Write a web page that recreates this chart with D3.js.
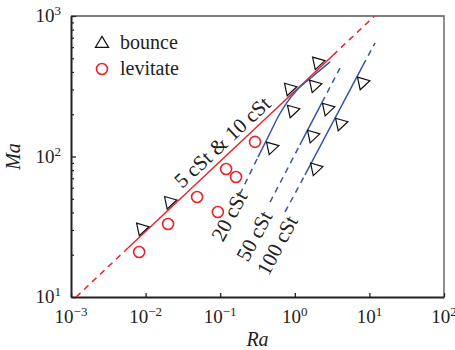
<!DOCTYPE html>
<html>
<head>
<meta charset="utf-8">
<script src="https://cdn.jsdelivr.net/npm/d3@7"></script>
<style>
  body { margin: 0; background: #fff; }
  svg { display: block; }
  text { font-family: "Liberation Serif", "Times New Roman", serif; fill: #222; }
</style>
</head>
<body>
<div id="chart"></div>
<script>
// bounce (triangles) and levitate (circles)
const bounceRa = [0.0087, 0.0206, 0.48, 0.836, 0.917, 1.81, 1.99, 2.70, 1.70, 4.04, 7.96, 1.87];
const bounceMa = [31, 48, 117, 307, 214, 323, 471, 221, 142, 173, 339, 83];
const levitateRa = [0.0082, 0.020, 0.049, 0.093, 0.120, 0.163, 0.293];
const levitateMa = [20.9, 33.1, 51.5, 40.3, 81.5, 71.5, 127];

// guide lines, [Ra, Ma] pairs
const red5Dashed1 = [[0.00117, 10], [0.0058, 22.3]];
const red5Solid = [[0.0058, 22.3], [3.25, 526]];
const red5Dashed2 = [[3.25, 526], [11.7, 1000]];
const blue20Dashed = [[0.184, 54], [0.321, 99]];
const blue20Solid = [[0.321, 99], [0.466, 147], [0.596, 191], [0.762, 237], [1.07, 297], [1.70, 368], [2.97, 471]];
const blue50Dashed1 = [[0.466, 47.4], [1.17, 121]];
const blue50Solid = [[1.17, 121], [2.32, 243]];
const blue50Dashed2 = [[2.32, 243], [4.03, 426]];
const blue100Dashed1 = [[0.74, 40.3], [1.37, 74]];
const blue100Solid = [[1.37, 74], [8.2, 445]];
const blue100Dashed2 = [[8.2, 445], [11.9, 643]];

const xTickExp = [-3, -2, -1, 0, 1, 2];
const yTickExp = [1, 2, 3];
const legendNames = ["bounce", "levitate"];

// labels: text, anchor [Ra, Ma], rotation
const lineLabels = [
  {text: "5 cSt & 10 cSt", at: [0.106, 127], angle: -43},
  {text: "20 cSt", at: [0.131, 37.8], angle: -62},
  {text: "50 cSt", at: [0.284, 27.2], angle: -62},
  {text: "100 cSt", at: [0.577, 23.4], angle: -62}
];

const W = 455, H = 350;
const margin = {top: 16, right: 11, bottom: 53, left: 71};
const w = W - margin.left - margin.right;
const h = H - margin.top - margin.bottom;

const red = "#e8242b", blue = "#3755a8";

const svg = d3.select("#chart").append("svg")
  .attr("width", W).attr("height", H);

const g = svg.append("g")
  .attr("transform", "translate(" + margin.left + "," + margin.top + ")");

const x = d3.scaleLog().domain([1e-3, 1e2]).range([0, w]);
const y = d3.scaleLog().domain([10, 1000]).range([h, 0]);

g.append("clipPath").attr("id", "clip")
  .append("rect").attr("width", w).attr("height", h);

// frame top/right
g.append("path")
  .attr("d", "M0,0H" + w + "V" + h)
  .attr("fill", "none").attr("stroke", "#555").attr("stroke-width", 1.3);

// x axis, major ticks pointing in
const xAxis = g.append("g")
  .attr("transform", "translate(0," + h + ")")
  .call(d3.axisBottom(x).tickValues(xTickExp.map(e => Math.pow(10, e)))
    .tickSizeInner(-4).tickSizeOuter(0).tickFormat(""));
xAxis.select(".domain").attr("stroke", "#222").attr("stroke-width", 2);
xAxis.selectAll(".tick line").attr("stroke", "#222").attr("stroke-width", 1.3);

// y axis, major + minor ticks
const yMinor = [];
[10, 100].forEach(b => { for (let k = 2; k <= 9; k++) yMinor.push(b * k); });
g.append("g")
  .call(d3.axisLeft(y).tickValues(yMinor).tickSizeInner(-3).tickSizeOuter(0).tickFormat(""))
  .call(a => a.select(".domain").remove())
  .selectAll(".tick line").attr("stroke", "#222").attr("stroke-width", 1.2);
const yAxis = g.append("g")
  .call(d3.axisLeft(y).tickValues(yTickExp.map(e => Math.pow(10, e)))
    .tickSizeInner(-5).tickSizeOuter(0).tickFormat(""));
yAxis.select(".domain").attr("stroke", "#222").attr("stroke-width", 2);
yAxis.selectAll(".tick line").attr("stroke", "#222").attr("stroke-width", 1.3);

// tick labels with superscripts
xTickExp.forEach(e => {
  const t = g.append("text")
    .attr("x", x(Math.pow(10, e))).attr("y", h + 26)
    .attr("text-anchor", "middle").style("font-size", "19px");
  t.append("tspan").text("10");
  t.append("tspan").attr("dy", -7).style("font-size", "13px").text(e < 0 ? "\u2212" + (-e) : e);
});
yTickExp.forEach(e => {
  const t = g.append("text")
    .attr("x", -10).attr("y", y(Math.pow(10, e)) + 6)
    .attr("text-anchor", "end").style("font-size", "19px");
  t.append("tspan").text("10");
  t.append("tspan").attr("dy", -7).style("font-size", "13px").text(e);
});

// axis titles
g.append("text").attr("x", w / 2).attr("y", h + 49)
  .attr("text-anchor", "middle").style("font-size", "20px").style("font-style", "italic").text("Ra");
g.append("text").attr("transform", "translate(-51," + (h / 2) + ") rotate(-90)")
  .attr("text-anchor", "middle").style("font-size", "20px").style("font-style", "italic").text("Ma");

// lines
const line = d3.line().x(d => x(d[0])).y(d => y(d[1])).curve(d3.curveMonotoneX);
const lines = g.append("g").attr("clip-path", "url(#clip)");
function drawLine(pts, color, dashed) {
  lines.append("path").datum(pts)
    .attr("d", line)
    .attr("fill", "none")
    .attr("stroke", color)
    .attr("stroke-width", 1.5)
    .attr("stroke-dasharray", dashed ? "6,5" : null);
}
drawLine(red5Dashed1, red, true);
drawLine(red5Solid, red, false);
drawLine(red5Dashed2, red, true);
drawLine(blue20Dashed, blue, true);
drawLine(blue20Solid, blue, false);
drawLine(blue50Dashed1, blue, true);
drawLine(blue50Solid, blue, false);
drawLine(blue50Dashed2, blue, true);
drawLine(blue100Dashed1, blue, true);
drawLine(blue100Solid, blue, false);
drawLine(blue100Dashed2, blue, true);

// markers
const tri = "M0,-6.6L6.6,4.4L-6.6,4.4Z";
g.selectAll(".bounce").data(d3.zip(bounceRa, bounceMa)).enter()
  .append("path").attr("class", "bounce")
  .attr("d", tri)
  .attr("transform", d => "translate(" + x(d[0]) + "," + y(d[1]) + ") rotate(-43)")
  .attr("fill", "none").attr("stroke", "#111").attr("stroke-width", 1.2);

g.selectAll(".levitate").data(d3.zip(levitateRa, levitateMa)).enter()
  .append("circle").attr("class", "levitate")
  .attr("cx", d => x(d[0])).attr("cy", d => y(d[1])).attr("r", 5.5)
  .attr("fill", "none").attr("stroke", red).attr("stroke-width", 1.6);

// line labels
lineLabels.forEach(l => {
  g.append("text")
    .attr("transform", "translate(" + x(l.at[0]) + "," + y(l.at[1]) + ") rotate(" + l.angle + ")")
    .attr("text-anchor", "middle").attr("dy", "0.35em")
    .style("font-size", "21px").text(l.text);
});

// legend
const leg = g.append("g").attr("transform", "translate(31,27)");
leg.append("path").attr("d", tri)
  .attr("fill", "none").attr("stroke", "#111").attr("stroke-width", 1.2);
leg.append("circle").attr("cx", 0).attr("cy", 26).attr("r", 5.5)
  .attr("fill", "none").attr("stroke", red).attr("stroke-width", 1.6);
legendNames.forEach((n, i) => {
  leg.append("text").attr("x", 18).attr("y", i * 26 + 6)
    .style("font-size", "20px").text(n);
});
</script>
</body>
</html>
